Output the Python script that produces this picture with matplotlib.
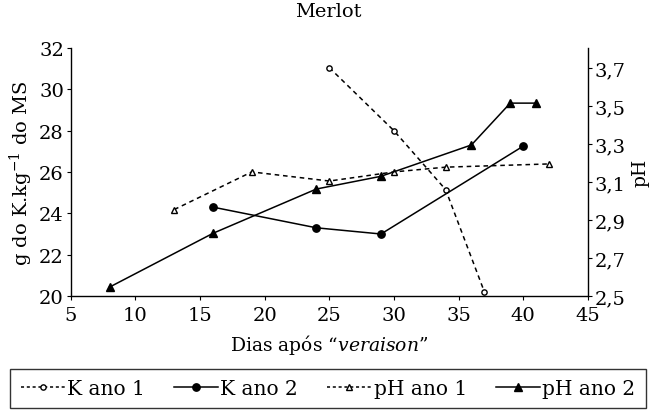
import matplotlib
matplotlib.use("Agg")
import matplotlib.pyplot as plt
from matplotlib.lines import Line2D

plt.rcParams['font.family'] = 'DejaVu Serif'
plt.rcParams['mathtext.fontset'] = 'dejavuserif'

# K (g/kg MS), left axis
k1_dias = [25, 30, 34, 37]
k1_vals = [31.05, 28.0, 25.15, 20.2]
k2_dias = [16, 24, 29, 40]
k2_vals = [24.3, 23.3, 23.0, 27.25]

# pH, right axis
ph1_dias = [13, 19, 25, 30, 34, 42]
ph1_vals = [2.955, 3.153, 3.105, 3.153, 3.178, 3.195]
ph2_dias = [8, 16, 24, 29, 36, 39, 41]
ph2_vals = [2.547, 2.83, 3.063, 3.13, 3.295, 3.515, 3.515]

x_ticks = [5, 10, 15, 20, 25, 30, 35, 40, 45]
left_ticks = [20, 22, 24, 26, 28, 30, 32]
right_ticks = [2.5, 2.7, 2.9, 3.1, 3.3, 3.5, 3.7]
right_labels = ['2,5', '2,7', '2,9', '3,1', '3,3', '3,5', '3,7']

fig = plt.figure(figsize=(6.56, 4.14), dpi=100)
ax = fig.add_axes([0.108, 0.2826, 0.788, 0.599])
ax2 = ax.twinx()

lw = 1.1
dash = (0, (3, 2.5))
ax.plot(k1_dias, k1_vals, color='black', ls=dash, lw=lw, marker='o',
        mfc='white', mec='black', ms=3.8, mew=1)
ax.plot(k2_dias, k2_vals, color='black', ls='-', lw=lw, marker='o',
        mfc='black', mec='black', ms=5.3)
ax2.plot(ph1_dias, ph1_vals, color='black', ls=dash, lw=lw, marker='^',
         mfc='white', mec='black', ms=4.3, mew=1)
ax2.plot(ph2_dias, ph2_vals, color='black', ls='-', lw=lw, marker='^',
         mfc='black', mec='black', ms=6)

ax.set_xlim(5, 45)
ax.set_ylim(20, 32)
ax2.set_ylim(2.5, 3.805)
ax.set_xticks(x_ticks)
ax.set_yticks(left_ticks)
ax2.set_yticks(right_ticks)
ax2.set_yticklabels(right_labels)

for a in (ax, ax2):
    a.spines['top'].set_visible(False)
    a.tick_params(labelsize=14, length=3, width=0.8, pad=2)
ax.tick_params(axis='x', pad=4)
ax.spines['right'].set_visible(False)
ax2.spines['left'].set_visible(False)
ax2.spines['bottom'].set_visible(False)
for s in ('left', 'bottom'):
    ax.spines[s].set_linewidth(1.0)
ax2.spines['right'].set_linewidth(1.0)

ax.set_xlabel('Dias após “$\\it{veraison}$”', fontsize=13.5, labelpad=6)
ax.set_ylabel('g do K.kg$^{-1}$ do MS', fontsize=14, labelpad=3)
ax2.set_ylabel('pH', fontsize=13.5, labelpad=4)
fig.text(0.5, 0.97, 'Merlot', fontsize=14, ha='center', va='center')

handles = [
    Line2D([], [], color='black', ls=(0, (2, 1.8)), lw=lw, marker='o', mfc='white', mec='black', ms=3.8),
    Line2D([], [], color='black', ls='-', lw=lw, marker='o', mfc='black', ms=5.3),
    Line2D([], [], color='black', ls=(0, (2, 1.8)), lw=lw, marker='^', mfc='white', mec='black', ms=4.3),
    Line2D([], [], color='black', ls='-', lw=lw, marker='^', mfc='black', ms=6),
]
labels = ['K ano 1', 'K ano 2', 'pH ano 1', 'pH ano 2']
leg = fig.legend(handles, labels, loc='upper left', bbox_to_anchor=(0.016, -0.02, 0.968, 0.126),
                 mode='expand', ncol=4, fontsize=14.5, frameon=True, fancybox=False,
                 edgecolor='black', handlelength=2.2, handletextpad=0.1, columnspacing=0.6,
                 borderpad=0.5, borderaxespad=0.0)
leg.get_frame().set_linewidth(1.0)

fig.savefig('out.png', dpi=100)
